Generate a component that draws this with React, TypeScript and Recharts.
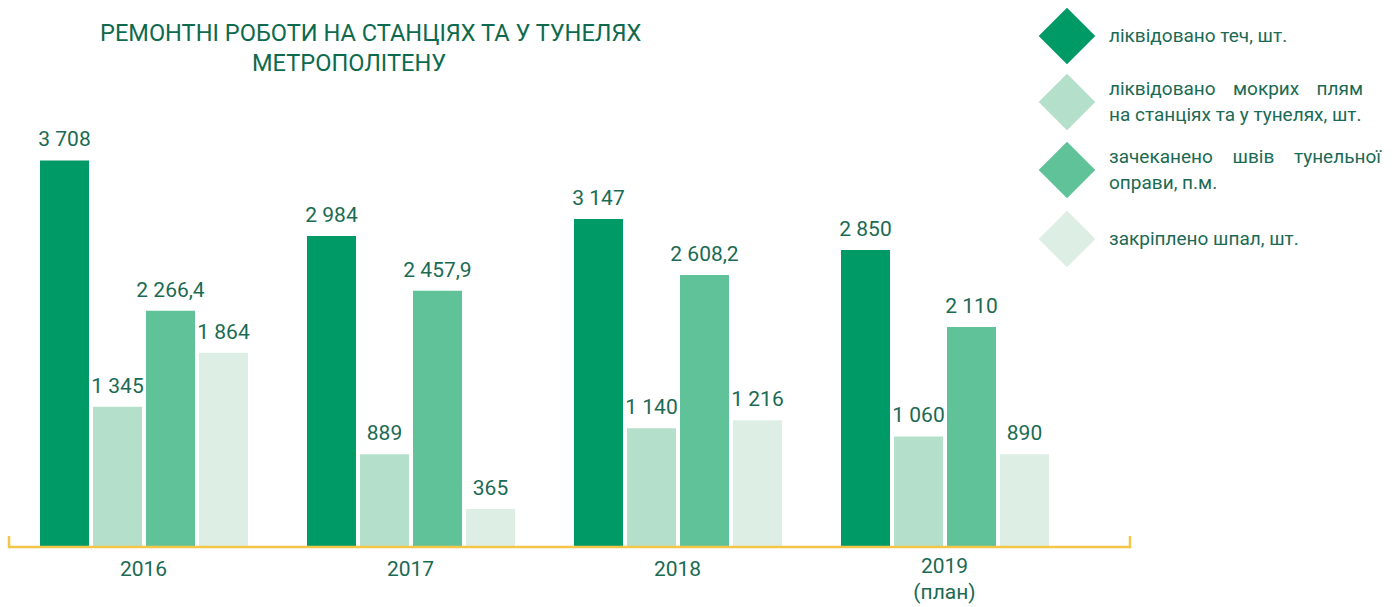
import React from 'react';
import { BarChart, Bar, XAxis, YAxis, LabelList, Legend, usePlotArea } from 'recharts';

// ---- data ----
const years = ['2016', '2017', '2018', '2019'];
const yearNotes = ['', '', '', '(план)'];
const leaks = [3708, 2984, 3147, 2850];
const wetSpots = [1345, 889, 1140, 1060];
const seams = [2266.4, 2457.9, 2608.2, 2110];
const sleepers = [1864, 365, 1216, 890];

const leaksLines = ['ліквідовано теч, шт.'];
const wetSpotsLines = ['ліквідовано мокрих плям', 'на станціях та у тунелях, шт.'];
const seamsLines = ['зачеканено швів тунельної', 'оправи, п.м.'];
const sleepersLines = ['закріплено шпал, шт.'];

const titleLine1 = 'РЕМОНТНІ РОБОТИ НА СТАНЦІЯХ ТА У ТУНЕЛЯХ';
const titleLine2 = 'МЕТРОПОЛІТЕНУ';

// ---- styles ----
const TEXT = '#1B6A54';
const TITLE = '#0E6A4E';
const AXIS = '#F3C64A';
const FONT = 'Roboto, "Liberation Sans", Arial, sans-serif';

const series = [
  { key: 'leaks', lines: leaksLines, color: '#009A67', width: 0, gap: 9 },
  { key: 'wetSpots', lines: wetSpotsLines, color: '#B4DFCA', width: 254, gap: 11 },
  { key: 'seams', lines: seamsLines, color: '#5FC298', width: 272, gap: 12 },
  { key: 'sleepers', lines: sleepersLines, color: '#DDEFE5', width: 0, gap: 0 },
];

const data = years.map((y, i) => ({
  year: y,
  note: yearNotes[i],
  leaks: leaks[i],
  wetSpots: wetSpots[i],
  seams: seams[i],
  sleepers: sleepers[i],
}));

const fmt = (v: any) => {
  const [i, d] = String(v).split('.');
  const g = i.replace(/\B(?=(\d{3})+(?!\d))/g, ' ');
  return d ? `${g},${d}` : g;
};

function AxisCaps() {
  const area: any = usePlotArea();
  if (!area) return null;
  const yb = area.y + area.height;
  return (
    <g>
      <line x1={area.x} x2={area.x} y1={yb - 11} y2={yb + 1.25} stroke={AXIS} strokeWidth={2.5} />
      <line x1={area.x + area.width} x2={area.x + area.width} y1={yb - 11} y2={yb + 1.25} stroke={AXIS} strokeWidth={2.5} />
    </g>
  );
}

const YearTick = (props: any) => {
  const { x, y, payload, index } = props;
  const note = yearNotes[index] ?? '';
  const hasNote = !!note;
  return (
    <g>
      <text x={x} y={y + (hasNote ? 26 : 29)} textAnchor="middle" fill={TEXT} fontSize={21} fontFamily={FONT}>
        {payload.value}
      </text>
      {hasNote && (
        <text x={x} y={y + 52} textAnchor="middle" fill={TEXT} fontSize={21} fontFamily={FONT}>
          {note}
        </text>
      )}
    </g>
  );
};

const renderLegend = (props: any) => {
  const payload = props.payload || [];
  return (
    <div style={{ fontFamily: FONT, fontSize: 19, color: TEXT, lineHeight: '26px' }}>
      {series.map((s) => {
        const entry = payload.find((p: any) => p.dataKey === s.key);
        const color = (entry && entry.color) || s.color;
        return (
          <div key={s.key} style={{ display: 'flex', alignItems: 'center', marginBottom: s.gap }}>
            <div style={{ width: 57, height: 57, marginLeft: 8, flex: '0 0 57px', display: 'flex', alignItems: 'center', justifyContent: 'center' }}>
              <div style={{ width: 40, height: 40, background: color, transform: 'rotate(45deg)' }} />
            </div>
            <div style={{ marginLeft: 14, whiteSpace: 'nowrap' }}>
              {s.lines.map((ln: string, j: number) => (
                <div
                  key={j}
                  style={
                    j < s.lines.length - 1
                      ? { width: s.width, textAlign: 'justify', textAlignLast: 'justify', whiteSpace: 'normal' }
                      : {}
                  }
                >
                  {ln}
                </div>
              ))}
            </div>
          </div>
        );
      })}
    </div>
  );
};

export default function App() {
  return (
    <div style={{ position: 'absolute', left: 0, top: 0, width: 1398, height: 607, background: '#fff' }}>
      <div style={{ position: 'absolute', left: 0, top: 0, width: 1398, height: 607 }}>
        <BarChart
          width={1398}
          height={607}
          data={data}
          margin={{ top: 130, right: 268, left: 9, bottom: 30 }}
          barSize={49}
          barGap={4}
        >
          <XAxis
            dataKey="year"
            height={30}
            padding={{ left: 1, right: 52 }}
            axisLine={{ stroke: AXIS, strokeWidth: 2.5 }}
            tickLine={false}
            tickSize={0}
            tickMargin={0}
            interval={0}
            tick={<YearTick />}
          />
          <YAxis hide domain={[0, 4000]} />
          <Legend
            layout="vertical"
            align="center"
            verticalAlign="middle"
            wrapperStyle={{ left: 1030, top: 7, width: 368, height: 'auto' }}
            content={renderLegend}
          />
          {series.map((s) => (
            <Bar key={s.key} dataKey={s.key} name={s.lines.join(' ')} fill={s.color} isAnimationActive={false}>
              <LabelList
                dataKey={s.key}
                position="top"
                offset={14}
                formatter={fmt}
                fill={TEXT}
                fontSize={21}
                fontFamily={FONT}
              />
            </Bar>
          ))}
          <AxisCaps />
        </BarChart>
      </div>
      <div
        style={{
          position: 'absolute',
          left: 0,
          top: 0,
          width: 742,
          fontFamily: FONT,
          fontSize: 23.6,
          color: TITLE,
          lineHeight: '28px',
          pointerEvents: 'none',
        }}
      >
        <div style={{ position: 'absolute', left: 100, top: 19, whiteSpace: 'nowrap' }}>{titleLine1}</div>
        <div style={{ position: 'absolute', left: 252, top: 49, whiteSpace: 'nowrap' }}>{titleLine2}</div>
      </div>
    </div>
  );
}
